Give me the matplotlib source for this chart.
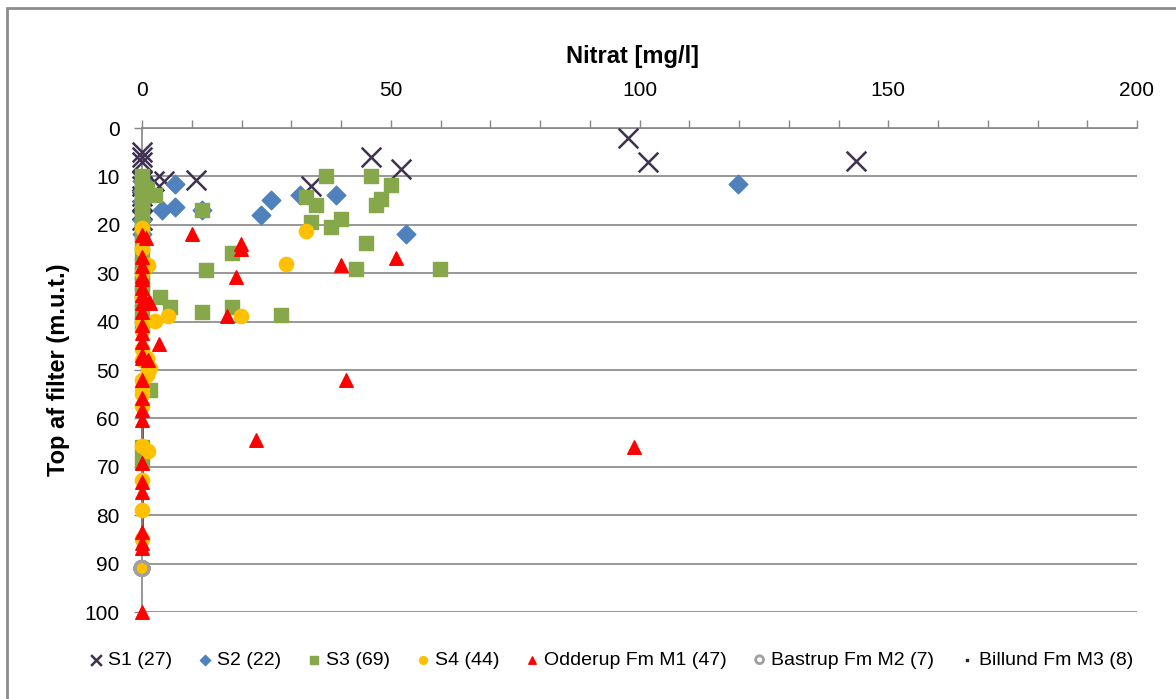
import matplotlib.pyplot as plt
import matplotlib.patches as mpatches
from matplotlib.ticker import MultipleLocator

plt.rcParams['font.family'] = ['Liberation Sans', 'DejaVu Sans']

# S1 (27)
s1_x = [0, 0, 0, 0, 0, 0, 0, 0, 0, 2.5, 4.5, 10.8, 34, 46, 52, 97.6, 101.8, 143.6]
s1_y = [5, 6, 7, 11, 12, 15, 17, 19, 14, 11, 11, 10.7, 12, 6, 8.5, 2.1, 7, 6.8]
# S2 (22)
s2_x = [0, 0, 0, 0, 0, 6.6, 4, 6.6, 12, 24, 26, 31.7, 39, 53, 119.7]
s2_y = [11, 13, 15, 19, 22, 11.6, 17, 16.3, 17, 18, 14.9, 13.8, 13.8, 21.9, 11.6]
# S3 (69)
s3_x = [0, 0, 0, 0, 0, 0, 0, 0, 0, 0, 0, 0, 0, 0, 0, 0, 0, 0, 0, 0,
        2.6, 1, 12, 12.9, 18, 18, 12, 28, 37, 33, 35, 33.9, 37.9, 39.9,
        43, 45, 46, 50, 48, 47, 59.8, 3.6, 5.6, 1.6, 0, 0]
s3_y = [10, 11, 12, 13, 14, 15, 16, 17, 18, 20, 22, 24, 26, 28, 30, 32,
        34, 36, 38, 40, 13.8, 12.5, 17, 29.3, 25.9, 36.9, 38, 38.6, 10, 14.2,
        15.9, 19.4, 20.4, 18.9, 29.2, 23.8, 10, 11.8, 14.7, 15.9, 29.1, 34.9,
        36.9, 54.1, 66, 69]
# S4 (44)
s4_x = [33, 29, 19.9, 2.6, 5.2, 1.3, 0, 0, 1.3, 0, 1.3, 1, 0, 0, 0, 0,
        0, 1.6, 0, 0, 0, 0, 0, 0, 0, 0, 0, 1]
s4_y = [21.3, 28.1, 38.8, 39.9, 38.8, 28.4, 20.7, 45.7, 66.8, 65.8, 50, 47.6,
        72.7, 79, 85, 91, 53.8, 49.6, 57.5, 25, 30, 35, 40, 42, 48, 52, 55, 51]
# Odderup Fm M1 (47)
m1_x = [10, 19.9, 19.9, 18.9, 17, 3.4, 40, 51, 41, 23, 98.8, 1.4, 1.3,
        0, 0.8, 0, 0, 0, 0, 0, 1.6, 0, 0, 0, 0, 0, 0, 0, 0, 0, 0, 0, 0,
        0, 0, 0, 0, 0, 0, 0]
m1_y = [21.9, 24, 25, 30.8, 38.8, 44.6, 28.3, 26.9, 52.1, 64.5, 65.9, 35.9,
        47.9, 22.1, 22.8, 26.6, 28.5, 30.6, 31.2, 33, 36.1, 36.2, 40.7, 42.4,
        44.2, 46.9, 47.5, 52.1, 55.8, 58.3, 60.3, 69.2, 73.1, 75.2, 83.5,
        85.7, 86.8, 100, 34.5, 38]
# Bastrup Fm M2 (7)
m2_x = [0, 0, 0, 0, 0, 0, 0]
m2_y = [91, 91, 91, 91, 91, 91, 91]
# Billund Fm M3 (8)
m3_x = [0, 0, 0, 0, 0, 0, 0, 0]
m3_y = [11, 12, 13, 15, 16, 17, 18, 19]

fig = plt.figure(figsize=(11.76, 6.99), dpi=100)
ax = fig.add_axes([142 / 1176, 1 - 612 / 699, 995 / 1176, 484 / 699])

grey = '#868686'
ax.set_xlim(0, 200)
ax.set_ylim(100, 0)
ax.xaxis.set_major_locator(MultipleLocator(50))
ax.xaxis.set_minor_locator(MultipleLocator(10))
ax.yaxis.set_major_locator(MultipleLocator(10))
ax.xaxis.tick_top()
ax.tick_params(axis='x', which='both', top=True, bottom=False, direction='out',
               length=6, width=1, color=grey, labelsize=15, pad=14)
ax.tick_params(axis='y', which='both', direction='out', length=6, width=1,
               color=grey, labelsize=15, pad=10)
for side in ['right', 'bottom']:
    ax.spines[side].set_visible(False)
for side in ['left', 'top']:
    ax.spines[side].set_color(grey)
    ax.spines[side].set_linewidth(1.2)
ax.grid(axis='y', color=grey, linewidth=1.2)
ax.set_axisbelow(True)

# red line along x=0 through the Odderup samples
zero_y = sorted(y for x, y in zip(m1_x, m1_y) if x == 0 and y < 95)
ax.plot([0] * len(zero_y), zero_y, color='red', lw=2, zorder=2, clip_on=False)

ax.scatter(s1_x, s1_y, marker='x', s=200, color='#3F3151', linewidths=1.8,
           label='S1 (27)', zorder=3, clip_on=False)
ax.scatter(s2_x, s2_y, marker='D', s=90, color='#4F81BD', label='S2 (22)',
           zorder=4, clip_on=False)
ax.scatter(s3_x, s3_y, marker='s', s=115, color='#86A84A', label='S3 (69)',
           zorder=5, clip_on=False)
ax.scatter(s4_x, s4_y, marker='o', s=105, color='#FFC000', label='S4 (44)',
           zorder=6, clip_on=False)
ax.scatter(m1_x, m1_y, marker='^', s=95, color='#FF0000',
           label='Odderup Fm M1 (47)', zorder=7, clip_on=False)
ax.scatter(m2_x, m2_y, marker='o', s=105, facecolors='none', edgecolors='#A0A0A0',
           linewidths=2, label='Bastrup Fm M2 (7)', zorder=8, clip_on=False)
ax.scatter(m3_x, m3_y, marker='s', s=6, color='#262626',
           label='Billund Fm M3 (8)', zorder=2, clip_on=False)

fig.text(633 / 1176, 1 - 57 / 699, 'Nitrat [mg/l]', fontsize=17,
         fontweight='bold', ha='center', va='center')
fig.text(58 / 1176, 1 - 370 / 699, 'Top af filter (m.u.t.)', fontsize=17,
         fontweight='bold', ha='center', va='center', rotation=90)

leg = fig.legend(loc='center', bbox_to_anchor=(610 / 1176, 1 - 660 / 699),
                 ncol=7, frameon=False, fontsize=14, handletextpad=0.1,
                 columnspacing=1.2, handlelength=1.0, markerscale=0.55)

# chart border
fig.patches.append(mpatches.Rectangle((7 / 1176, -0.05), 1.2, 1 - 8 / 699 + 0.05,
                                      transform=fig.transFigure, fill=False,
                                      edgecolor='#8C8C8C', linewidth=2))

fig.savefig('out.png', dpi=100)
